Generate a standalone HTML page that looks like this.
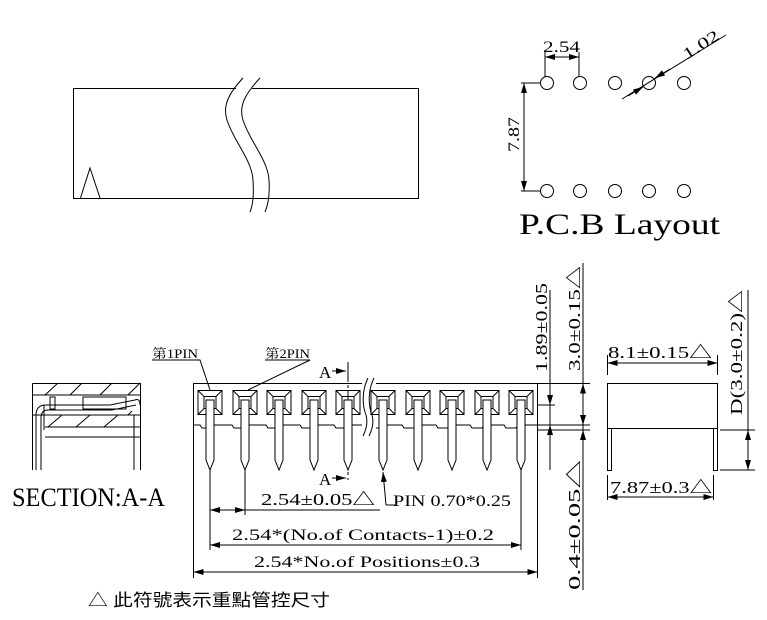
<!DOCTYPE html>
<html><head><meta charset="utf-8"><style>
html,body{margin:0;padding:0;background:#fff;}
svg{display:block;}
text{font-family:"Liberation Serif","Noto Serif CJK SC",serif;fill:#000;}
</style></head><body>
<svg width="767" height="620" viewBox="0 0 767 620" xmlns="http://www.w3.org/2000/svg">
<defs>
<marker id="a" markerWidth="10" markerHeight="6" refX="10" refY="3" orient="auto-start-reverse" markerUnits="userSpaceOnUse"><path d="M0,0 L10,3 L0,6 Z" fill="#000"/></marker>
</defs>
<g stroke="#000" stroke-width="1" fill="none">
<rect x="73.5" y="88.5" width="345" height="110"/>
<path d="M236,88 L252,88 L266,198 L251,198Z" fill="#fff" stroke="none"/>
<path d="M243,78 C230,92 222,105 227,120 C233,140 252,160 253,180 C254,195 253,205 250,212"/>
<path d="M260,78 C247,92 238,105 243,120 C249,140 268,160 269,180 C270,195 268,205 265,212"/>
<path d="M80.5,198 L90,168 L100,198"/>

<g>
<circle cx="547" cy="83" r="6.5"/><circle cx="580" cy="83" r="6.5"/><circle cx="615" cy="83" r="6.5"/><circle cx="649" cy="83" r="6.5"/><circle cx="684" cy="83" r="6.5"/>
<circle cx="547" cy="191" r="6.5"/><circle cx="580" cy="191" r="6.5"/><circle cx="615" cy="191" r="6.5"/><circle cx="649" cy="191" r="6.5"/><circle cx="684" cy="191" r="6.5"/>
</g>
<path d="M545,77 V52 M579,77 V52"/>
<path d="M545,57 H579" marker-start="url(#a)" marker-end="url(#a)"/>
<path d="M521,83 H540 M521,191 H540"/>
<path d="M524,83 V191" marker-start="url(#a)" marker-end="url(#a)"/>
<path d="M622,99 L726,35"/>
<path d="M655,78 L670,69" marker-start="url(#a)"/>
<path d="M628,96 L643,87" marker-end="url(#a)"/>

<path d="M193.5,430 V383.5 H537.5 V430"/>
<path d="M193.5,425 H200 l2,3 h10 l2,-3 h18 l2,3 h10 l2,-3 h20 l2,3 h10 l2,-3 h20 l2,3 h10 l2,-3 h20 l2,3 h10 l2,-3 h20 l2,3 h10 l2,-3 h20 l2,3 h10 l2,-3 h20 l2,3 h10 l2,-3 h20 l2,3 h10 l2,-3 h20 l2,3 h10 l2,-3 H537.5"/>
<path d="M362,383 h14 v46 h-14z" fill="#fff" stroke="none"/>
<path d="M368,378 C362,390 362,405 366,415 C368,422 366,430 363,436"/>
<path d="M374,378 C368,390 368,405 372,415 C374,422 372,430 369,436"/>
<path d="M348,362 V480" stroke-dasharray="20,3,3,3"/>
<path d="M332,371 H346" marker-end="url(#a)"/>
<path d="M332,478 H346" marker-end="url(#a)"/>
<path d="M152,360 H200 L210,390"/>
<path d="M265,360 H310 L248,390"/>
<path d="M193.5,430 V578 M537.5,430 V578 M210,470 V550 M245,470 V515 M521,470 V550"/>
<path d="M210,510 H245" marker-start="url(#a)" marker-end="url(#a)"/>
<path d="M245,510 H380"/>
<path d="M210,545 H521" marker-start="url(#a)" marker-end="url(#a)"/>
<path d="M193.5,572 H537.5" marker-start="url(#a)" marker-end="url(#a)"/>
<path d="M386,505 L383,472" marker-end="url(#a)"/>
<path d="M386,505 H395"/>
<path d="M537,383.5 H590 M537,405 H555 M537,425 H590 M537,430 H590"/>
<path d="M550,290 V470"/>
<path d="M550,392 V405" marker-end="url(#a)"/>
<path d="M550,440 V425" marker-end="url(#a)"/>
<path d="M583,263 V590"/>
<path d="M583,395 V383.5" marker-end="url(#a)"/>
<path d="M583,415 V425" marker-end="url(#a)"/>
<path d="M583,445 V430" marker-end="url(#a)"/>
<rect x="607.5" y="383.5" width="110" height="45"/>
<rect x="607.5" y="428.5" width="4" height="42"/>
<rect x="713.5" y="428.5" width="4" height="42"/>
<path d="M607.5,375 V355 M717.5,375 V355"/>
<path d="M607.5,363 H717.5" marker-start="url(#a)" marker-end="url(#a)"/>
<path d="M607.5,475 V500 M713.5,475 V500"/>
<path d="M607.5,497 H713.5" marker-start="url(#a)" marker-end="url(#a)"/>
<path d="M720,430 H755 M720,470 H755"/>
<path d="M748,290 V470"/>
<path d="M748,448 V430" marker-end="url(#a)"/>
<path d="M748,452 V470" marker-end="url(#a)"/>
<path d="M32.5,383.5 H140.5 V470 M32.5,383.5 V470"/>
<path d="M32,395 H140 M32,415 H140 M45,427 H140 M45,437 H140"/>
<path d="M36,470 V415 Q36,405 46,405 H110 L135,400 Q140,398 140,405"/>
<path d="M41,470 V418 Q41,410 48,410 H112 L136,405"/>
<path d="M134,470 V415 M44,405 V430"/>
<path d="M45,395 L58,383 M70,395 L82,383 M100,395 L112,383 M128,395 L140,383 M48,427 L62,415 M76,427 L90,415 M104,427 L118,415 M128,415 L132,411"/>
<rect x="50" y="397" width="5" height="12"/>
<rect x="83" y="397" width="43" height="12"/>
</g>
<g stroke="#000" fill="none" stroke-width="1">
<g transform="translate(210,0)"><rect x="-12" y="390.5" width="24" height="24"/><path d="M-12,390.5 l6,6 h12 l6,-6 M-12,414.5 l6,-6 h12 l6,6 M-6,396.5 v12 M6,396.5 v12"/><path d="M-4,400 V460 L0,470 L4,460 V400 Z" fill="#fff"/></g>
<g transform="translate(245,0)"><rect x="-12" y="390.5" width="24" height="24"/><path d="M-12,390.5 l6,6 h12 l6,-6 M-12,414.5 l6,-6 h12 l6,6 M-6,396.5 v12 M6,396.5 v12"/><path d="M-4,400 V460 L0,470 L4,460 V400 Z" fill="#fff"/></g>
<g transform="translate(279,0)"><rect x="-12" y="390.5" width="24" height="24"/><path d="M-12,390.5 l6,6 h12 l6,-6 M-12,414.5 l6,-6 h12 l6,6 M-6,396.5 v12 M6,396.5 v12"/><path d="M-4,400 V460 L0,470 L4,460 V400 Z" fill="#fff"/></g>
<g transform="translate(314,0)"><rect x="-12" y="390.5" width="24" height="24"/><path d="M-12,390.5 l6,6 h12 l6,-6 M-12,414.5 l6,-6 h12 l6,6 M-6,396.5 v12 M6,396.5 v12"/><path d="M-4,400 V460 L0,470 L4,460 V400 Z" fill="#fff"/></g>
<g transform="translate(348,0)"><rect x="-12" y="390.5" width="24" height="24"/><path d="M-12,390.5 l6,6 h12 l6,-6 M-12,414.5 l6,-6 h12 l6,6 M-6,396.5 v12 M6,396.5 v12"/><path d="M-4,400 V460 L0,470 L4,460 V400 Z" fill="#fff"/></g>
<g transform="translate(383,0)"><rect x="-12" y="390.5" width="24" height="24"/><path d="M-12,390.5 l6,6 h12 l6,-6 M-12,414.5 l6,-6 h12 l6,6 M-6,396.5 v12 M6,396.5 v12"/><path d="M-4,400 V460 L0,470 L4,460 V400 Z" fill="#fff"/></g>
<g transform="translate(418,0)"><rect x="-12" y="390.5" width="24" height="24"/><path d="M-12,390.5 l6,6 h12 l6,-6 M-12,414.5 l6,-6 h12 l6,6 M-6,396.5 v12 M6,396.5 v12"/><path d="M-4,400 V460 L0,470 L4,460 V400 Z" fill="#fff"/></g>
<g transform="translate(452,0)"><rect x="-12" y="390.5" width="24" height="24"/><path d="M-12,390.5 l6,6 h12 l6,-6 M-12,414.5 l6,-6 h12 l6,6 M-6,396.5 v12 M6,396.5 v12"/><path d="M-4,400 V460 L0,470 L4,460 V400 Z" fill="#fff"/></g>
<g transform="translate(487,0)"><rect x="-12" y="390.5" width="24" height="24"/><path d="M-12,390.5 l6,6 h12 l6,-6 M-12,414.5 l6,-6 h12 l6,6 M-6,396.5 v12 M6,396.5 v12"/><path d="M-4,400 V460 L0,470 L4,460 V400 Z" fill="#fff"/></g>
<g transform="translate(521,0)"><rect x="-12" y="390.5" width="24" height="24"/><path d="M-12,390.5 l6,6 h12 l6,-6 M-12,414.5 l6,-6 h12 l6,6 M-6,396.5 v12 M6,396.5 v12"/><path d="M-4,400 V460 L0,470 L4,460 V400 Z" fill="#fff"/></g>
</g>

<text x="543" y="52" font-size="16" textLength="37" lengthAdjust="spacingAndGlyphs">2.54</text>
<text x="0" y="0" font-size="16" textLength="40" lengthAdjust="spacingAndGlyphs" transform="translate(687,60) rotate(-33)">1.02</text>
<text x="0" y="0" font-size="16" textLength="35" lengthAdjust="spacingAndGlyphs" transform="translate(519,152) rotate(-90)">7.87</text>
<text x="519" y="234" font-size="30" textLength="201" lengthAdjust="spacingAndGlyphs">P.C.B Layout</text>
<text x="152" y="358" font-size="13" textLength="46" lengthAdjust="spacingAndGlyphs">第1PIN</text>
<text x="265" y="358" font-size="13" textLength="45" lengthAdjust="spacingAndGlyphs">第2PIN</text>
<text x="319" y="378" font-size="17">A</text>
<text x="319" y="485" font-size="17">A</text>
<text x="12" y="506" font-size="26" textLength="153" lengthAdjust="spacingAndGlyphs">SECTION:A-A</text>
<text x="261" y="505" font-size="17" textLength="114" lengthAdjust="spacingAndGlyphs">2.54±0.05△</text>
<text x="393" y="506" font-size="16" textLength="118" lengthAdjust="spacingAndGlyphs">PIN 0.70*0.25</text>
<text x="232" y="540" font-size="16" textLength="262" lengthAdjust="spacingAndGlyphs">2.54*(No.of Contacts-1)±0.2</text>
<text x="254" y="567" font-size="16" textLength="226" lengthAdjust="spacingAndGlyphs">2.54*No.of Positions±0.3</text>
<text x="0" y="0" font-size="17" textLength="89" lengthAdjust="spacingAndGlyphs" transform="translate(547,372) rotate(-90)">1.89±0.05</text>
<text x="0" y="0" font-size="17" textLength="105" lengthAdjust="spacingAndGlyphs" transform="translate(580,371) rotate(-90)">3.0±0.15△</text>
<text x="0" y="0" font-size="17" textLength="130" lengthAdjust="spacingAndGlyphs" transform="translate(580,590) rotate(-90)">0.4±0.05△</text>
<text x="608" y="358" font-size="17" textLength="104" lengthAdjust="spacingAndGlyphs">8.1±0.15△</text>
<text x="0" y="0" font-size="17" textLength="125" lengthAdjust="spacingAndGlyphs" transform="translate(742,415) rotate(-90)">D(3.0±0.2)△</text>
<text x="610" y="493" font-size="17" textLength="102" lengthAdjust="spacingAndGlyphs">7.87±0.3△</text>
<text x="88" y="606" font-size="17" textLength="242" lengthAdjust="spacingAndGlyphs" style='font-family:"Liberation Sans","Noto Sans CJK TC",sans-serif'>△ 此符號表示重點管控尺寸</text>
</svg>
</body></html>
